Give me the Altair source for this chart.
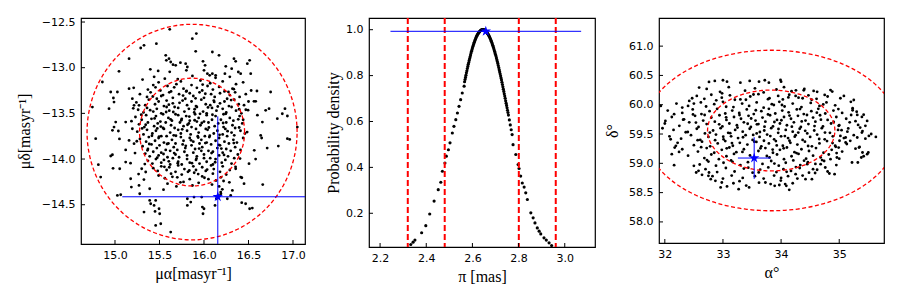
import altair as alt
import pandas as pd

# ---------------- Panel 1: proper motion samples ----------------
PM_SPARSE = [
    (15.914, -12.627), (15.869, -12.682), (15.615, -12.580), (15.465, -12.737), (15.326, -12.755),
    (15.289, -12.784), (15.158, -12.901), (15.045, -13.040), (14.858, -13.157), (14.746, -13.431),
    (14.783, -13.777), (14.813, -14.062), (14.839, -14.197), (15.570, -12.865), (15.607, -12.901),
    (15.626, -12.938), (15.652, -12.967), (15.577, -12.919), (15.682, -12.974), (15.794, -12.956),
    (15.813, -12.992), (15.802, -13.029), (15.907, -12.821), (15.989, -12.930), (16.012, -12.974),
    (16.000, -13.029), (16.038, -13.065), (16.064, -13.084), (16.094, -12.828), (16.169, -12.865),
    (16.337, -12.901), (16.356, -12.930), (16.386, -13.047), (16.412, -13.065), (16.487, -12.956),
    (16.513, -12.919), (16.525, -13.065), (16.311, -13.011), (16.131, -13.084), (16.094, -13.065),
    (15.397, -13.018), (16.749, -13.266), (16.731, -13.449), (16.693, -13.467), (16.824, -13.558),
    (16.880, -13.504), (16.910, -13.449), (16.937, -13.529), (16.937, -13.777), (16.835, -13.858),
    (16.637, -13.741), (16.648, -13.770), (16.656, -13.595), (16.963, -13.785), (17.049, -13.650),
    (16.562, -13.368), (16.581, -13.368), (14.952, -13.266), (15.027, -13.266), (14.982, -13.332),
    (14.989, -13.376), (14.933, -13.449), (15.008, -13.595), (14.989, -13.650), (14.971, -13.686),
    (15.038, -13.693), (15.120, -13.595), (15.158, -13.230), (15.195, -13.339), (15.214, -13.412),
    (15.270, -13.412), (15.195, -13.668), (15.158, -13.796), (15.214, -13.832), (14.952, -13.967),
    (14.971, -13.953), (14.978, -14.102), (15.053, -14.106), (15.120, -14.033), (15.176, -14.216),
    (15.184, -14.307), (15.270, -14.289), (15.278, -14.380), (15.390, -14.325), (15.345, -14.142),
    (15.300, -14.106), (15.027, -14.398), (15.064, -14.391), (15.390, -14.453), (15.401, -14.489),
    (15.439, -14.508), (15.457, -14.453), (15.495, -14.544), (15.502, -14.599), (15.450, -14.573),
    (15.326, -14.581), (15.457, -14.727), (15.514, -14.708), (15.626, -14.800), (15.813, -14.435),
    (15.813, -14.508), (15.851, -14.471), (15.888, -14.416), (15.974, -14.416), (15.982, -14.526),
    (16.000, -14.544), (15.989, -14.599), (16.124, -14.508), (16.139, -14.435), (16.188, -14.362),
    (16.206, -14.332), (16.262, -14.435), (16.300, -14.398), (16.319, -14.343), (16.424, -14.478),
    (16.468, -14.489), (16.513, -14.544), (16.543, -14.537), (16.450, -14.270), (16.412, -14.197),
    (16.356, -14.106), (16.506, -14.051), (16.19, -14.38), (16.17, -14.40), (16.60, -13.52),
    (16.71, -13.88), (16.58, -14.00), (16.66, -14.28), (15.12, -13.90), (15.05, -13.78),
]
PM_DENSE = [
    (15.31, -13.13), (15.44, -13.10), (15.49, -13.16), (15.56, -13.12), (15.74, -13.15), (15.87, -13.09),
    (15.96, -13.14), (16.07, -13.17), (16.13, -13.11), (16.21, -13.15), (16.29, -13.10), (16.44, -13.16),
    (15.21, -13.22), (15.37, -13.24), (15.43, -13.19), (15.51, -13.25), (15.59, -13.20), (15.63, -13.26),
    (15.69, -13.18), (15.77, -13.23), (15.80, -13.26), (15.86, -13.19), (15.92, -13.22), (15.98, -13.25),
    (16.04, -13.20), (16.10, -13.24), (16.17, -13.21), (16.23, -13.26), (16.32, -13.23), (16.36, -13.18),
    (16.53, -13.25), (15.28, -13.29), (15.36, -13.32), (15.40, -13.27), (15.47, -13.34), (15.54, -13.30),
    (15.61, -13.27), (15.65, -13.33), (15.72, -13.29), (15.79, -13.34), (15.84, -13.28), (15.88, -13.31),
    (15.95, -13.27), (16.00, -13.33), (16.08, -13.29), (16.12, -13.32), (16.18, -13.28), (16.26, -13.34),
    (16.29, -13.30), (16.35, -13.27), (16.40, -13.32), (16.47, -13.29),
    (15.24, -13.38), (15.34, -13.41), (15.38, -13.35), (15.45, -13.40), (15.49, -13.37), (15.55, -13.42),
    (15.58, -13.36), (15.65, -13.39), (15.67, -13.43), (15.76, -13.36), (15.81, -13.41), (15.86, -13.37),
    (15.91, -13.42), (15.97, -13.35), (16.02, -13.40), (16.07, -13.41), (16.11, -13.36), (16.18, -13.39),
    (16.23, -13.37), (16.28, -13.42), (16.34, -13.35), (16.39, -13.40), (16.45, -13.41), (16.50, -13.37),
    (15.26, -13.46), (15.32, -13.49), (15.36, -13.44), (15.43, -13.48), (15.47, -13.45), (15.52, -13.50),
    (15.58, -13.43), (15.61, -13.47), (15.68, -13.51), (15.71, -13.44), (15.78, -13.48), (15.83, -13.45),
    (15.89, -13.49), (15.92, -13.43), (15.99, -13.48), (16.03, -13.50), (16.09, -13.44), (16.14, -13.47),
    (16.21, -13.45), (16.25, -13.49), (16.31, -13.43), (16.36, -13.47), (16.42, -13.50), (16.47, -13.46),
    (15.23, -13.54), (15.30, -13.57), (15.35, -13.52), (15.41, -13.56), (15.46, -13.53), (15.51, -13.59),
    (15.54, -13.51), (15.60, -13.55), (15.64, -13.58), (15.71, -13.52), (15.75, -13.56), (15.80, -13.53),
    (15.84, -13.58), (15.90, -13.51), (15.94, -13.55), (16.00, -13.59), (16.03, -13.52), (16.09, -13.57),
    (16.13, -13.53), (16.19, -13.57), (16.22, -13.51), (16.29, -13.55), (16.33, -13.58), (16.40, -13.53),
    (16.44, -13.57), (15.27, -13.62), (15.33, -13.65), (15.37, -13.60), (15.44, -13.64), (15.48, -13.61),
    (15.54, -13.66), (15.57, -13.60), (15.63, -13.63), (15.67, -13.66), (15.73, -13.60), (15.77, -13.64),
    (15.83, -13.61), (15.86, -13.65), (15.92, -13.59), (15.96, -13.63), (16.02, -13.67), (16.05, -13.60),
    (16.12, -13.64), (16.16, -13.61), (16.22, -13.65), (16.25, -13.60), (16.32, -13.63), (16.35, -13.66),
    (16.43, -13.61), (15.25, -13.70), (15.32, -13.73), (15.36, -13.68), (15.42, -13.72), (15.46, -13.69),
    (15.52, -13.75), (15.55, -13.67), (15.62, -13.71), (15.66, -13.74), (15.71, -13.68), (15.74, -13.72),
    (15.81, -13.69), (15.85, -13.73), (15.91, -13.67), (15.94, -13.71), (16.01, -13.75), (16.04, -13.68),
    (16.11, -13.72), (16.15, -13.69), (16.21, -13.73), (16.24, -13.67), (16.31, -13.71), (16.34, -13.74),
    (16.41, -13.69), (16.46, -13.72), (15.28, -13.78), (15.35, -13.81), (15.38, -13.76), (15.45, -13.80),
    (15.49, -13.77), (15.55, -13.82), (15.58, -13.75), (15.64, -13.79), (15.68, -13.83), (15.74, -13.76),
    (15.77, -13.80), (15.84, -13.77), (15.88, -13.81), (15.93, -13.75), (15.97, -13.79), (16.03, -13.82),
    (16.06, -13.76), (16.13, -13.80), (16.17, -13.77), (16.23, -13.81), (16.26, -13.75), (16.33, -13.79),
    (16.37, -13.82), (16.44, -13.77), (15.31, -13.86), (15.37, -13.89), (15.41, -13.84), (15.47, -13.88),
    (15.50, -13.85), (15.57, -13.90), (15.60, -13.83), (15.66, -13.87), (15.70, -13.90), (15.76, -13.84),
    (15.79, -13.88), (15.86, -13.85), (15.90, -13.89), (15.95, -13.83), (15.98, -13.87), (16.05, -13.91),
    (16.08, -13.84), (16.15, -13.88), (16.18, -13.85), (16.25, -13.89), (16.28, -13.83), (16.35, -13.87),
    (16.41, -13.90), (15.34, -13.94), (15.39, -13.97), (15.43, -13.92), (15.49, -13.96), (15.52, -13.93),
    (15.59, -13.98), (15.62, -13.91), (15.68, -13.95), (15.72, -13.98), (15.78, -13.92), (15.81, -13.96),
    (15.88, -13.93), (15.92, -13.97), (15.97, -13.91), (16.00, -13.95), (16.07, -13.99), (16.10, -13.92),
    (16.17, -13.96), (16.21, -13.93), (16.27, -13.97), (16.30, -13.91), (16.38, -13.95), (15.37, -14.02),
    (15.42, -14.05), (15.46, -14.00), (15.52, -14.04), (15.55, -14.01), (15.62, -14.06), (15.65, -13.99),
    (15.71, -14.03), (15.75, -14.06), (15.81, -14.00), (15.84, -14.04), (15.91, -14.01), (15.95, -14.05),
    (16.00, -13.99), (16.03, -14.03), (16.10, -14.06), (16.13, -14.00), (16.20, -14.04), (16.24, -14.01),
    (16.31, -14.05), (16.34, -13.99), (15.43, -14.10), (15.48, -14.13), (15.52, -14.08), (15.58, -14.12),
    (15.61, -14.09), (15.68, -14.14), (15.71, -14.07), (15.78, -14.11), (15.82, -14.14), (15.88, -14.08),
    (15.91, -14.12), (15.98, -14.09), (16.02, -14.13), (16.08, -14.07), (16.11, -14.11), (16.18, -14.14),
    (16.21, -14.08), (16.29, -14.12), (15.49, -14.18), (15.56, -14.21), (15.63, -14.16), (15.70, -14.20),
    (15.75, -14.17), (15.84, -14.22), (15.89, -14.15), (15.98, -14.19), (16.05, -14.22), (16.10, -14.16),
    (16.19, -14.20), (16.25, -14.17), (15.59, -14.27), (15.69, -14.30), (15.77, -14.25), (15.87, -14.29),
    (15.94, -14.26), (16.09, -14.28), (16.17, -14.30), (16.22, -14.24),
]
PM_EXTRA = [
    (15.52, -13.31), (15.905, -13.335), (16.155, -13.425), (15.295, -13.515), (15.625, -13.565),
    (15.975, -13.605), (16.265, -13.695), (15.415, -13.745), (15.795, -13.855), (16.085, -13.935),
    (15.555, -14.085), (15.935, -14.165), (16.275, -13.265), (15.665, -13.215), (15.345, -13.625),
    (16.385, -13.565), (16.165, -13.845), (15.475, -13.985), (15.735, -14.255), (16.035, -14.115),
    (15.605, -13.405), (15.835, -13.535), (16.055, -13.655), (15.385, -13.835), (15.685, -13.745),
    (15.945, -13.885), (16.225, -13.955), (15.515, -13.645), (16.335, -13.825), (15.765, -13.305),
    (15.455, -13.215), (15.705, -13.125), (16.015, -13.285), (16.395, -13.455), (15.245, -13.805),
    (15.335, -14.055), (15.645, -14.195), (16.135, -14.235), (16.405, -13.995), (15.895, -13.455),
    (15.575, -13.485), (15.815, -13.625), (16.095, -13.515), (15.445, -13.555), (15.935, -13.765),
    (15.665, -13.935), (16.215, -13.605), (15.365, -13.905), (16.005, -14.205), (15.865, -14.045),
    (15.185, -13.585), (15.225, -13.935), (16.485, -13.705), (16.495, -13.465), (16.355, -14.085),
    (15.615, -13.045), (16.235, -13.065), (15.265, -14.165), (16.425, -14.205), (15.985, -13.185),
    (15.725, -13.385), (16.045, -13.435), (15.585, -13.835), (15.895, -13.575), (16.175, -13.735),
    (15.475, -13.665), (15.705, -14.045), (16.125, -14.035), (15.805, -13.255), (16.305, -13.355),
    (15.395, -13.465), (15.755, -13.675), (16.015, -13.825), (15.545, -13.945), (15.835, -14.125),
    (16.245, -13.505), (15.655, -13.485), (15.955, -13.505), (16.115, -13.375), (15.495, -13.755),
    (15.605, -14.025), (15.915, -13.995), (16.195, -13.885), (15.305, -13.665), (16.395, -13.655),
    (15.745, -13.575), (16.065, -13.745), (15.855, -13.795), (15.425, -13.315), (16.335, -13.235),
    (15.205, -13.445), (15.175, -14.045), (15.325, -14.225), (15.545, -14.335), (16.285, -14.255),
    (16.565, -13.905), (16.595, -13.255), (15.735, -12.945), (15.485, -13.035), (16.245, -12.985),
]
PM_CENTER = (15.866, -13.705)
PM_RADII = [0.59, 1.18]
PM_BEST = (16.155, -14.413)
PM_ERR = (1.073, 0.88)
PM_XTICKS = [15.0, 15.5, 16.0, 16.5, 17.0]
PM_YTICKS = [-12.5, -13.0, -13.5, -14.0, -14.5]
PM_XDOM = [14.618, 17.135]
PM_YDOM = [-14.93, -12.456]

# ---------------- Panel 2: parallax probability density ----------------
PAR_X = [2.333, 2.343, 2.351, 2.380, 2.398, 2.415, 2.434, 2.452, 2.463, 2.470, 2.481, 2.487, 2.496,
         2.503, 2.513, 2.520, 2.528, 2.535, 2.542, 2.549, 2.556, 2.564,
         2.568, 2.572, 2.576, 2.580, 2.584, 2.588, 2.592, 2.596, 2.600, 2.604, 2.608, 2.612, 2.616,
         2.620, 2.624, 2.628, 2.632, 2.636, 2.640, 2.644, 2.648, 2.652, 2.656, 2.660, 2.664, 2.668,
         2.672, 2.676, 2.680, 2.684, 2.688, 2.692, 2.696, 2.700, 2.704, 2.708, 2.712, 2.716, 2.720,
         2.724, 2.728, 2.732, 2.736, 2.740, 2.744, 2.748, 2.752, 2.756, 2.760, 2.764, 2.768, 2.772,
         2.776, 2.788, 2.798, 2.802, 2.809, 2.816, 2.824, 2.831, 2.838, 2.853, 2.863, 2.871, 2.881,
         2.889, 2.896, 2.910, 2.920, 2.932, 2.943]
PAR_Y = [0.064, 0.074, 0.083, 0.115, 0.146, 0.197, 0.253, 0.303, 0.335, 0.383, 0.419, 0.449, 0.477,
         0.507, 0.550, 0.579, 0.608, 0.637, 0.666, 0.695, 0.724, 0.754,
         0.783, 0.802, 0.821, 0.840, 0.857, 0.874, 0.890, 0.906, 0.920, 0.933, 0.945, 0.956, 0.966,
         0.975, 0.982, 0.988, 0.993, 0.997, 0.999, 1.000, 1.000, 0.998, 0.995, 0.992, 0.986, 0.980,
         0.973, 0.964, 0.955, 0.944, 0.932, 0.920, 0.906, 0.892, 0.877, 0.861, 0.844, 0.826, 0.808,
         0.790, 0.771, 0.751, 0.731, 0.711, 0.690, 0.670, 0.649, 0.628, 0.607, 0.585, 0.564, 0.543,
         0.499, 0.456, 0.412, 0.395, 0.362, 0.332, 0.314, 0.289, 0.260, 0.202, 0.180, 0.158, 0.136,
         0.122, 0.110, 0.093, 0.083, 0.071, 0.059]
# extra samples along the thick part of the curve
PAR_X2 = [2.566, 2.570, 2.574, 2.578, 2.582, 2.586, 2.590, 2.594, 2.598, 2.602, 2.606, 2.610,
          2.614, 2.618, 2.622, 2.626, 2.630, 2.634, 2.638, 2.642, 2.646, 2.650, 2.654, 2.658,
          2.662, 2.666, 2.670, 2.674, 2.678, 2.682, 2.686, 2.690, 2.694, 2.698, 2.702, 2.706,
          2.710, 2.714, 2.718, 2.722, 2.726, 2.730, 2.734, 2.738, 2.742, 2.746, 2.750, 2.754]
PAR_Y2 = [0.773, 0.792, 0.812, 0.831, 0.849, 0.866, 0.882, 0.898, 0.913, 0.927, 0.939, 0.951,
          0.961, 0.971, 0.979, 0.985, 0.991, 0.995, 0.998, 1.000, 1.000, 0.999, 0.997, 0.994,
          0.989, 0.983, 0.977, 0.969, 0.960, 0.950, 0.938, 0.926, 0.913, 0.899, 0.885, 0.869,
          0.853, 0.835, 0.817, 0.799, 0.781, 0.761, 0.741, 0.721, 0.701, 0.680, 0.660, 0.639]
PAR_LINES = [2.320, 2.480, 2.801, 2.961]
PAR_BEST = (2.658, 0.993)
PAR_ERR = 0.413
PAR_XTICKS = [2.2, 2.4, 2.6, 2.8, 3.0]
PAR_YTICKS = [0.2, 0.4, 0.6, 0.8, 1.0]
PAR_XDOM = [2.152, 3.131]
PAR_YDOM = [0.053, 1.051]

# ---------------- Panel 3: position samples ----------------
POS_SPARSE = [
    (32.76, 60.389), (32.86, 60.406), (33.00, 60.417), (33.07, 60.394), (33.30, 60.377), (33.46, 60.406),
    (33.62, 60.394), (33.72, 60.417), (33.79, 60.377), (33.99, 60.423), (34.00, 60.394), (32.59, 60.292),
    (32.47, 60.110), (32.42, 60.065), (32.50, 60.019), (32.30, 59.951), (32.16, 59.838), (32.01, 59.724),
    (31.93, 59.980), (31.96, 59.599), (32.10, 59.411), (32.19, 59.298), (32.17, 59.269), (32.12, 59.156),
    (32.16, 58.968), (32.50, 58.957), (32.54, 58.843), (32.58, 58.872), (32.64, 58.804), (32.76, 58.843),
    (32.75, 58.786), (32.79, 58.730), (32.87, 58.701), (32.98, 58.673), (32.96, 58.588), (33.07, 58.605),
    (33.27, 58.559), (33.45, 58.588), (33.73, 58.673), (33.82, 58.645), (33.89, 58.616), (34.07, 58.645),
    (34.09, 58.616), (34.14, 58.548), (34.25, 58.815), (34.42, 58.730), (34.53, 58.730), (34.83, 58.826),
    (34.92, 58.815), (35.22, 59.014), (35.32, 59.014), (35.38, 59.099), (35.48, 59.156), (35.50, 59.184),
    (35.40, 59.184), (35.34, 59.269), (35.31, 59.440), (35.39, 59.525), (35.51, 59.468), (35.63, 59.451),
    (35.45, 59.639), (35.48, 59.724), (35.39, 59.792), (35.31, 59.826), (35.23, 59.940), (35.23, 59.906),
    (35.08, 60.150), (34.88, 60.224), (34.75, 60.167), (34.56, 60.235), (34.39, 60.247), (34.37, 60.110),
    (34.25, 60.150), (34.99, 59.639), (35.04, 59.565), (35.02, 59.468), (35.11, 59.440), (35.11, 59.355),
    (35.19, 59.383), (34.99, 59.269), (34.94, 59.281), (34.96, 59.099), (34.85, 59.071), (34.68, 58.985),
    (34.76, 58.929), (34.55, 58.900), (34.45, 58.985),
]
POS_DENSE = [
    (32.72, 60.27), (32.95, 60.22), (33.10, 60.30), (33.38, 60.24), (33.55, 60.28), (33.70, 60.21),
    (33.92, 60.26), (34.05, 60.30), (34.18, 60.23), (34.40, 60.27), (34.62, 60.22), (34.85, 60.25),
    (32.55, 60.15), (32.68, 60.10), (32.80, 60.17), (32.98, 60.12), (33.12, 60.16), (33.30, 60.09),
    (33.47, 60.14), (33.61, 60.18), (33.80, 60.11), (33.95, 60.15), (34.03, 60.09), (34.14, 60.17),
    (34.30, 60.12), (34.47, 60.16), (34.61, 60.10), (34.80, 60.14), (35.02, 60.11), (35.25, 60.08),
    (32.20, 60.02), (32.40, 59.98), (32.62, 60.04), (32.71, 59.97), (32.85, 60.01), (33.00, 60.05),
    (33.18, 59.96), (33.33, 60.02), (33.45, 59.98), (33.58, 60.04), (33.70, 59.95), (33.84, 60.01),
    (33.97, 60.05), (34.06, 59.97), (34.20, 60.02), (34.35, 59.96), (34.51, 60.03), (34.66, 59.98),
    (34.78, 60.04), (34.93, 59.99), (35.20, 60.05), (32.05, 59.90), (32.30, 59.86), (32.48, 59.92),
    (32.63, 59.84), (32.77, 59.89), (32.90, 59.93), (33.04, 59.85), (33.16, 59.90), (33.28, 59.86),
    (33.41, 59.92), (33.53, 59.84), (33.66, 59.89), (33.79, 59.93), (33.90, 59.85), (34.02, 59.90),
    (34.13, 59.87), (34.27, 59.92), (34.39, 59.84), (34.52, 59.89), (34.64, 59.93), (34.76, 59.85),
    (34.90, 59.90), (35.05, 59.86), (35.30, 59.88), (35.42, 59.83), (32.12, 59.79), (32.33, 59.75),
    (32.52, 59.81), (32.66, 59.73), (32.80, 59.78), (32.94, 59.82), (33.06, 59.74), (33.19, 59.79),
    (33.31, 59.76), (33.44, 59.81), (33.56, 59.73), (33.68, 59.78), (33.81, 59.82), (33.93, 59.74),
    (34.05, 59.79), (34.17, 59.76), (34.29, 59.81), (34.42, 59.73), (34.55, 59.78), (34.67, 59.82),
    (34.80, 59.74), (34.95, 59.79), (35.12, 59.76), (35.28, 59.72), (32.00, 59.68), (32.25, 59.64),
    (32.42, 59.70), (32.58, 59.62), (32.72, 59.67), (32.86, 59.71), (32.99, 59.63), (33.11, 59.68),
    (33.24, 59.65), (33.36, 59.70), (33.48, 59.62), (33.61, 59.67), (33.73, 59.71), (33.86, 59.63),
    (33.98, 59.68), (34.10, 59.65), (34.22, 59.70), (34.34, 59.62), (34.47, 59.67), (34.59, 59.71),
    (34.72, 59.63), (34.86, 59.68), (35.00, 59.65), (35.18, 59.70), (35.36, 59.61), (32.15, 59.57),
    (32.36, 59.53), (32.55, 59.59), (32.69, 59.51), (32.83, 59.56), (32.96, 59.60), (33.09, 59.52),
    (33.21, 59.57), (33.34, 59.54), (33.46, 59.59), (33.58, 59.51), (33.71, 59.56), (33.83, 59.60),
    (33.95, 59.52), (34.08, 59.57), (34.20, 59.54), (34.32, 59.59), (34.45, 59.51), (34.57, 59.56),
    (34.70, 59.60), (34.84, 59.52), (34.98, 59.57), (35.14, 59.54), (35.40, 59.55), (35.55, 59.50),
    (32.08, 59.46), (32.28, 59.42), (32.45, 59.48), (32.61, 59.40), (32.75, 59.45), (32.88, 59.49),
    (33.01, 59.41), (33.14, 59.46), (33.26, 59.43), (33.39, 59.48), (33.51, 59.40), (33.63, 59.45),
    (33.76, 59.49), (33.88, 59.41), (34.00, 59.46), (34.12, 59.43), (34.25, 59.48), (34.37, 59.40),
    (34.50, 59.45), (34.62, 59.49), (34.75, 59.41), (34.89, 59.46), (35.08, 59.43), (35.25, 59.48),
    (35.45, 59.42), (32.22, 59.35), (32.50, 59.31), (32.64, 59.37), (32.78, 59.29), (32.91, 59.34),
    (33.04, 59.38), (33.17, 59.30), (33.29, 59.35), (33.42, 59.32), (33.54, 59.37), (33.66, 59.29),
    (33.79, 59.34), (33.91, 59.38), (34.03, 59.30), (34.16, 59.35), (34.28, 59.32), (34.41, 59.37),
    (34.53, 59.29), (34.66, 59.34), (34.79, 59.38), (34.93, 59.30), (35.13, 59.33), (35.35, 59.28),
    (32.30, 59.24), (32.57, 59.20), (32.72, 59.26), (32.85, 59.18), (32.98, 59.23), (33.11, 59.27),
    (33.23, 59.19), (33.36, 59.24), (33.61, 59.21), (33.73, 59.26), (33.86, 59.18), (33.98, 59.23),
    (34.10, 59.27), (34.23, 59.19), (34.35, 59.24), (34.48, 59.21), (34.60, 59.26), (34.73, 59.18),
    (34.87, 59.23), (35.05, 59.20), (35.28, 59.25), (32.40, 59.13), (32.68, 59.09), (32.80, 59.15),
    (32.93, 59.07), (33.06, 59.12), (33.19, 59.16), (33.80, 59.10), (33.93, 59.15), (34.05, 59.07),
    (34.18, 59.12), (34.30, 59.16), (34.43, 59.08), (34.55, 59.13), (34.68, 59.10), (34.82, 59.15),
    (35.00, 59.08), (35.42, 59.12), (32.60, 58.98), (32.75, 59.03), (32.88, 58.96), (33.01, 59.01),
    (33.14, 59.05), (33.30, 58.97), (33.43, 59.02), (33.68, 58.99), (33.83, 59.04), (33.96, 58.96),
    (34.08, 59.01), (34.21, 59.05), (34.33, 58.97), (34.46, 59.02), (34.59, 58.99), (34.74, 59.04),
    (34.95, 58.97), (32.70, 58.90), (32.90, 58.85), (33.05, 58.92), (33.20, 58.86), (33.36, 58.91),
    (33.51, 58.84), (33.64, 58.89), (33.78, 58.93), (33.92, 58.85), (34.04, 58.90), (34.17, 58.87),
    (34.32, 58.92), (34.48, 58.84), (34.62, 58.89), (34.80, 58.86), (32.82, 58.78), (33.00, 58.74),
    (33.15, 58.79), (33.34, 58.75), (33.55, 58.78), (33.70, 58.74), (33.88, 58.79), (34.00, 58.75),
    (34.12, 58.78), (34.28, 58.74), (34.37, 58.79), (33.18, 58.66), (33.40, 58.62), (33.62, 58.67),
    (33.97, 58.63), (34.20, 58.66),
]
POS_EXTRA = [
    (33.25, 59.61), (33.52, 59.485), (33.885, 59.705), (34.145, 59.385), (34.415, 59.555),
    (33.645, 59.255), (33.055, 59.785), (34.685, 59.745), (32.865, 59.395), (34.265, 59.175),
    (33.775, 59.835), (34.015, 59.995), (33.395, 60.085), (32.985, 60.195), (34.525, 60.085),
    (34.885, 59.345), (32.535, 59.695), (33.465, 59.135), (34.095, 58.855), (32.725, 59.055),
    (33.155, 59.345), (33.565, 59.905), (33.955, 59.585), (34.355, 59.715), (34.755, 59.525),
    (32.395, 59.535), (33.705, 59.385), (34.045, 59.255), (33.285, 59.825), (34.615, 59.865),
    (33.815, 59.465), (33.585, 59.665), (34.185, 59.625), (33.125, 59.515), (34.465, 59.295),
    (32.935, 59.665), (33.875, 59.995), (34.325, 59.925), (33.345, 59.445), (34.905, 59.705),
    (32.625, 59.275), (33.435, 58.925), (34.255, 58.935), (34.705, 59.055), (33.755, 59.125),
    (32.485, 59.835), (33.205, 60.085), (34.125, 60.125), (34.985, 59.925), (35.155, 59.595),
    (33.925, 59.305), (33.635, 59.535), (34.235, 59.455), (33.485, 59.765), (33.005, 59.455),
    (34.575, 59.635), (34.005, 59.735), (33.775, 60.095), (32.775, 59.525), (35.005, 59.385),
    (33.335, 59.195), (33.885, 58.995), (34.395, 59.045), (32.565, 59.395), (33.055, 59.965),
    (34.725, 60.005), (35.205, 59.825), (32.315, 59.745), (33.615, 58.845), (34.585, 58.835),
    (33.525, 60.175), (34.255, 60.245), (32.885, 60.075), (33.165, 59.025), (34.955, 59.175),
    (32.245, 59.195), (35.325, 59.655), (33.995, 58.705), (33.285, 58.695), (34.445, 59.825),
    (33.715, 59.625), (34.065, 59.465), (33.425, 59.675), (34.295, 59.525), (33.855, 59.235),
    (33.575, 59.365), (34.145, 59.815), (33.065, 59.255), (34.655, 59.415), (32.685, 59.825),
]
POS_CENTER = (33.83, 59.56)
POS_RADII = [(1.095, 0.69), (2.19, 1.37)]
POS_BEST = (33.537, 59.09)
POS_ERR = (0.28, 0.355)
POS_XTICKS = [32, 33, 34, 35]
POS_YTICKS = [58.0, 58.5, 59.0, 59.5, 60.0, 60.5, 61.0]
POS_XDOM = [31.90, 35.77]
POS_YDOM = [57.64, 61.48]

LABEL_FONT = "DejaVu Sans"
TITLE_FONT = "Liberation Serif"
STAR = ("M0,-1L0.2233,-0.3074L0.9511,-0.309L0.3614,0.1174L0.5878,0.809L0,0.38"
        "L-0.5878,0.809L-0.3614,0.1174L-0.9511,-0.309L-0.2233,-0.3074Z")
ANGLES = pd.DataFrame({"t": [i * 0.02 for i in range(316)]})


def xenc(field, dom, ticks, title, fmt):
    return alt.X(field, type="quantitative",
                 scale=alt.Scale(domain=dom, nice=False, zero=False),
                 axis=alt.Axis(values=ticks, format=fmt, title=title, ticks=False, domain=False,
                               grid=False, labelPadding=5, titlePadding=5))


def yenc(field, dom, ticks, title, fmt, tpad):
    return alt.Y(field, type="quantitative",
                 scale=alt.Scale(domain=dom, nice=False, zero=False),
                 axis=alt.Axis(values=ticks, format=fmt, title=title, ticks=False, domain=False,
                               grid=False, labelPadding=6, titlePadding=tpad))


def panel(points, xdom, ydom, xticks, yticks, xtitle, ytitle, xfmt, yfmt, tpad, w, h,
          rings, best, err, vlines=None, psize=8):
    X = lambda f: xenc(f, xdom, xticks, xtitle, xfmt)
    Y = lambda f: yenc(f, ydom, yticks, ytitle, yfmt, tpad)
    layers = []
    pts = alt.Chart(points).mark_point(shape="circle", filled=True, size=psize, color="black",
                                       opacity=1).encode(x=X("x"), y=Y("y"))
    layers.append(pts)
    if vlines is not None:
        vdf = pd.DataFrame({"x": vlines})
        vl = alt.Chart(vdf).mark_rule(color="red", strokeDash=[6, 3], strokeWidth=2).encode(
            x=X("x"), y=alt.value(0), y2=alt.value(h))
        layers.append(vl)
    for (cx, cy, rx, ry) in rings:
        ring = alt.Chart(ANGLES).transform_calculate(
            px=f"{cx} + {rx} * cos(datum.t)", py=f"{cy} + {ry} * sin(datum.t)"
        ).mark_line(color="red", strokeDash=[4, 2.5], strokeWidth=1.3, clip=True).encode(
            x=X("px"), y=Y("py"), order=alt.Order("t", type="quantitative"))
        layers.append(ring)
    bx, by = best
    ex, ey = err
    hdf = pd.DataFrame({"x": [bx - ex], "x2": [bx + ex], "y": [by]})
    hbar = alt.Chart(hdf).mark_rule(color="blue", strokeWidth=1, clip=True).encode(
        x=X("x"), x2=alt.X2("x2"), y=Y("y"))
    layers.append(hbar)
    if ey > 0:
        vdf2 = pd.DataFrame({"x": [bx], "y": [by - ey], "y2": [by + ey]})
        vbar = alt.Chart(vdf2).mark_rule(color="blue", strokeWidth=1, clip=True).encode(
            x=X("x"), y=Y("y"), y2=alt.Y2("y2"))
        layers.append(vbar)
    sdf = pd.DataFrame({"x": [bx], "y": [by]})
    star = alt.Chart(sdf).mark_point(shape=STAR, filled=True, color="blue", size=120,
                                     opacity=1).encode(x=X("x"), y=Y("y"))
    layers.append(star)
    bt = alt.Chart(pd.DataFrame({"x": xticks})).mark_rule(color="black", strokeWidth=1).encode(
        x=X("x"), y=alt.value(h - 4), y2=alt.value(h))
    lt = alt.Chart(pd.DataFrame({"y": yticks})).mark_rule(color="black", strokeWidth=1).encode(
        y=Y("y"), x=alt.value(0), x2=alt.value(4))
    layers += [bt, lt]
    return alt.layer(*layers).properties(width=w, height=h)


pm_df = pd.DataFrame(PM_SPARSE + PM_DENSE + PM_EXTRA, columns=["x", "y"])
par_df = pd.DataFrame({"x": PAR_X + PAR_X2, "y": PAR_Y + PAR_Y2})
pos_df = pd.DataFrame(POS_SPARSE + POS_DENSE + POS_EXTRA, columns=["x", "y"])

p1 = panel(pm_df, PM_XDOM, PM_YDOM, PM_XTICKS, PM_YTICKS, "μα[masyr⁻¹]", "μδ[masyr⁻¹]",
           ".1f", ".1f", 9, 224, 226,
           [(PM_CENTER[0], PM_CENTER[1], r, r) for r in PM_RADII], PM_BEST, PM_ERR)
p2 = panel(par_df, PAR_XDOM, PAR_YDOM, PAR_XTICKS, PAR_YTICKS, "π [mas]", "Probability density",
           ".1f", ".1f", 4, 226, 229, [], PAR_BEST, (PAR_ERR, 0), vlines=PAR_LINES, psize=10)
p3 = panel(pos_df, POS_XDOM, POS_YDOM, POS_XTICKS, POS_YTICKS, "α°", "δ°",
           "d", ".1f", 8, 225, 225,
           [(POS_CENTER[0], POS_CENTER[1], rx, ry) for rx, ry in POS_RADII], POS_BEST, POS_ERR)

chart = alt.hconcat(p1, p2, p3, spacing=64, bounds="flush").properties(
    padding={"left": 7, "top": 7, "right": 5, "bottom": 3}
).configure_view(stroke="black", strokeWidth=1.2).configure_axis(
    labelFont=LABEL_FONT, labelFontSize=11, labelColor="black",
    titleFont=TITLE_FONT, titleFontSize=16, titleFontWeight="normal", titleColor="black"
)

chart.save("out.html", embed_options={"renderer": "svg", "actions": False})
